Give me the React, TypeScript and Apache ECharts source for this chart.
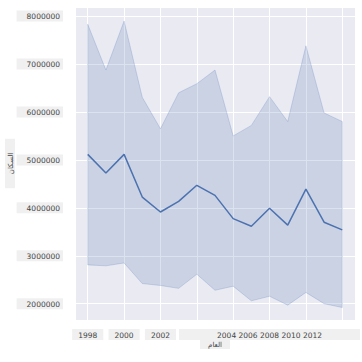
import React, { useEffect, useRef } from "react";
import * as echarts from "echarts";

const years = [1998, 1999, 2000, 2001, 2002, 2003, 2004, 2005, 2006, 2007, 2008, 2009, 2010, 2011, 2012];
const meanValues = [5115000, 4725000, 5115000, 4225000, 3913000, 4135000, 4470000, 4260000, 3775000, 3615000, 3990000, 3640000, 4390000, 3700000, 3540000];
const lowerValues = [2810000, 2790000, 2850000, 2420000, 2380000, 2320000, 2615000, 2280000, 2365000, 2060000, 2155000, 1970000, 2235000, 2000000, 1920000];
const upperValues = [7830000, 6875000, 7896000, 6306000, 5650000, 6400000, 6590000, 6875000, 5500000, 5720000, 6320000, 5800000, 7380000, 5980000, 5800000];
const xTickYears = [1998, 2000, 2002, 2004, 2006, 2008, 2010, 2012];
const yTicks = [2000000, 3000000, 4000000, 5000000, 6000000, 7000000, 8000000];
const xTitle = "العام";
const yTitle = "السكان";

export default function App() {
  const ref = useRef<HTMLDivElement>(null);
  useEffect(() => {
    if (!ref.current) return;
    const chart = echarts.init(ref.current, null, { renderer: "svg" });
    const blue = "#4C72B0";
    const font = "DejaVu Sans";
    const labelBg = "#f0f0f0";
    const textColor = "#444";
    const fs = 7.5;
    const merged = xTickYears.filter((y) => y >= 2004).join(" ");
    chart.setOption({
      animation: false,
      backgroundColor: "#ffffff",
      grid: {
        left: 75, right: 7, top: 7, bottom: 42,
        show: true, backgroundColor: "#EAEAF2", borderWidth: 0,
        containLabel: false, outerBoundsMode: "none",
      },
      xAxis: {
        type: "value",
        min: 1997.3,
        max: 2012.7,
        splitNumber: 8,
        minInterval: 2,
        maxInterval: 2,
        name: xTitle,
        nameLocation: "middle",
        nameGap: 20,
        nameMoveOverlap: false,
        nameTextStyle: { fontFamily: font, fontSize: 7, color: textColor, backgroundColor: labelBg, padding: [1, 8, 1, 8] },
        axisLine: { show: false },
        axisTick: { show: false },
        splitLine: { show: true, lineStyle: { color: "#ffffff", width: 1 } },
        axisLabel: {
          showMinLabel: false,
          showMaxLabel: false,
          hideOverlap: false,
          margin: 9,
          formatter: (v: number) => {
            const r = Math.round(v);
            if (Math.abs(v - r) > 1e-6 || !xTickYears.includes(r)) return "";
            if (r <= 2002) return "{a|" + r + "}";
            if (r === 2008) return "{b|" + merged + "}";
            return "";
          },
          rich: {
            a: { fontFamily: font, fontSize: fs, color: textColor, backgroundColor: labelBg, padding: [2, 6, 1, 6] },
            b: { fontFamily: font, fontSize: fs, color: textColor, backgroundColor: labelBg, padding: [2, 38, 1, 38] },
          },
        },
      },
      yAxis: {
        type: "value",
        min: 1660000,
        max: 8190000,
        splitNumber: 6,
        minInterval: 1000000,
        maxInterval: 1000000,
        name: yTitle,
        nameLocation: "middle",
        nameRotate: 90,
        nameGap: 60,
        nameMoveOverlap: false,
        nameTextStyle: { fontFamily: font, fontSize: 7, color: textColor, backgroundColor: labelBg, padding: [2, 14, 1, 14] },
        axisLine: { show: false },
        axisTick: { show: false },
        splitLine: { show: true, lineStyle: { color: "#ffffff", width: 1 } },
        axisLabel: {
          showMinLabel: false,
          showMaxLabel: false,
          hideOverlap: false,
          margin: 12,
          formatter: (v: number) => {
            const r = Math.round(v);
            return yTicks.includes(r) ? "{a|" + r + "}" : "";
          },
          rich: {
            a: { fontFamily: font, fontSize: fs, color: textColor, backgroundColor: labelBg, padding: [2, 3, 1, 10] },
          },
        },
      },
      series: [
        {
          type: "custom",
          data: years.map((y, i) => [y, lowerValues[i], upperValues[i]]),
          encode: { x: 0, y: [1, 2] },
          z: 1,
          renderItem: (params: any, api: any) => {
            if (params.dataIndex !== 0) return null;
            const top = years.map((y, i) => api.coord([y, upperValues[i]]));
            const bottom = years.map((y, i) => api.coord([y, lowerValues[i]])).reverse();
            return {
              type: "polygon",
              shape: { points: top.concat(bottom) },
              style: { fill: "rgba(76,114,176,0.2)", stroke: "rgba(76,114,176,0.22)", lineWidth: 1 },
            };
          },
        },
        {
          type: "line",
          data: years.map((y, i) => [y, meanValues[i]]),
          symbol: "none",
          lineStyle: { color: blue, width: 1.5 },
          z: 3,
        },
      ],
    });
    return () => chart.dispose();
  }, []);
  return <div ref={ref} style={{ width: 362, height: 362, position: "absolute", left: 0, top: 0 }} />;
}
